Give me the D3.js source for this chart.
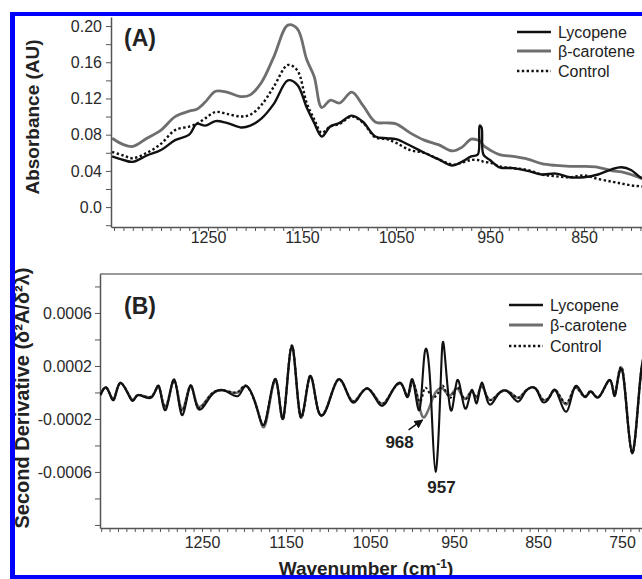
<!DOCTYPE html>
<html><head><meta charset="utf-8">
<script src="https://cdn.jsdelivr.net/npm/d3@7"></script>
<style>body{margin:0;background:#fff}svg{display:block;font-family:"Liberation Sans",Arial,sans-serif}</style>
</head><body><svg id="c" width="642" height="579"></svg>
<script>
// ---------- Panel A: absorbance ----------
const wavenumbersA = [1352,1340,1330,1315,1300,1285,1270,1262,1253,1242,1230,1215,1205,1193,1180,1165,1155,1145,1137,1129,1120,1110,1097,1085,1072,1060,1050,1035,1020,1005,990,980,970,963,961,959,957,950,940,925,910,895,880,865,850,835,820,810,800,790,780,760];
const lycopeneA = [0.056,0.052,0.050,0.057,0.063,0.074,0.080,0.092,0.090,0.095,0.093,0.088,0.090,0.098,0.114,0.140,0.135,0.110,0.093,0.078,0.089,0.093,0.101,0.094,0.078,0.076,0.075,0.068,0.060,0.053,0.046,0.050,0.056,0.058,0.090,0.088,0.058,0.052,0.044,0.043,0.040,0.036,0.037,0.033,0.033,0.036,0.042,0.044,0.041,0.033,0.030,0.028];
const betaCaroteneA = [0.076,0.069,0.067,0.076,0.085,0.100,0.106,0.108,0.116,0.128,0.127,0.122,0.124,0.138,0.166,0.201,0.197,0.163,0.144,0.110,0.118,0.115,0.127,0.112,0.094,0.093,0.092,0.082,0.074,0.069,0.062,0.066,0.075,0.074,0.073,0.071,0.068,0.063,0.058,0.056,0.053,0.048,0.046,0.045,0.045,0.044,0.040,0.039,0.036,0.032,0.029,0.026];
const controlA = [0.061,0.057,0.054,0.060,0.070,0.085,0.089,0.092,0.098,0.105,0.103,0.100,0.102,0.113,0.133,0.157,0.151,0.115,0.097,0.082,0.089,0.092,0.100,0.093,0.077,0.075,0.071,0.063,0.060,0.053,0.047,0.049,0.052,0.052,0.051,0.051,0.050,0.049,0.045,0.043,0.041,0.036,0.034,0.033,0.035,0.031,0.028,0.026,0.024,0.023,0.022,0.020];
const yTicksA = [-0.02,0,0.02,0.04,0.06,0.08,0.10,0.12,0.14,0.16,0.18,0.20];
const yLabelsA = {"0":"0.0","0.04":"0.04","0.08":"0.08","0.12":"0.12","0.16":"0.16","0.2":"0.20"};
const xLabelsA = [1250,1150,1050,950,850];

// ---------- Panel B: second derivative ----------
const wavenumbersB = [1371,1363,1355,1347,1334,1326,1310,1301,1293,1283,1274,1264,1255,1240,1223,1207,1197,1184,1174,1162,1153,1143,1133,1122,1112,1100,1088,1077,1067,1053,1038,1026,1013,1005,999,991,985,978,972,966,962,954,946,937,929,923,917,909,898,886,874,865,853,845,836,828,816,806,795,787,777,764,758,749,738,727,715];
const lycopeneB = [-0.19e-4,0.31e-4,-0.57e-4,0.74e-4,-0.57e-4,-0.19e-4,-0.37e-4,0.44e-4,-1.32e-4,0.99e-4,-1.70e-4,0.49e-4,-1.20e-4,-0.32e-4,0.14e-4,-0.27e-4,0.49e-4,-1.32e-4,-2.08e-4,0.99e-4,-1.90e-4,3.51e-4,-1.70e-4,1.19e-4,-1.30e-4,-0.95e-4,0.99e-4,-0.07e-4,-0.69e-4,0.31e-4,-0.95e-4,-0.19e-4,0.69e-4,-0.32e-4,0.94e-4,-1.32e-4,2.95e-4,0.44e-4,-5.98e-4,0.44e-4,3.51e-4,-1.32e-4,0.94e-4,-1.20e-4,0.19e-4,-0.82e-4,0.74e-4,-0.82e-4,-0.19e-4,0.06e-4,-0.69e-4,0.06e-4,0.31e-4,-0.69e-4,-0.32e-4,0.06e-4,-1.45e-4,0.44e-4,-0.32e-4,0.06e-4,-0.32e-4,0.94e-4,-0.19e-4,1.44e-4,-4.59e-4,1.70e-4,2.50e-4];
const betaCaroteneB = [-0.19e-4,0.31e-4,-0.50e-4,0.70e-4,-0.50e-4,-0.19e-4,-0.30e-4,0.40e-4,-1.10e-4,0.90e-4,-1.30e-4,0.50e-4,-1.00e-4,-0.20e-4,0.14e-4,0.00e-4,0.49e-4,-1.30e-4,-2.30e-4,0.90e-4,-1.90e-4,3.50e-4,-1.80e-4,1.15e-4,-1.30e-4,-0.90e-4,0.95e-4,-0.05e-4,-0.60e-4,0.30e-4,-0.80e-4,-0.15e-4,0.65e-4,-0.30e-4,0.80e-4,-1.10e-4,-1.85e-4,-0.90e-4,0.00e-4,0.35e-4,0.20e-4,-0.20e-4,0.30e-4,-0.50e-4,0.10e-4,-0.40e-4,0.50e-4,-0.50e-4,-0.15e-4,0.10e-4,-0.40e-4,0.10e-4,0.30e-4,-0.50e-4,-0.30e-4,0.10e-4,-0.90e-4,0.35e-4,-0.30e-4,0.10e-4,-0.30e-4,0.90e-4,-0.10e-4,1.55e-4,-4.50e-4,1.70e-4,2.50e-4];
const controlB = [-0.19e-4,0.31e-4,-0.50e-4,0.70e-4,-0.50e-4,-0.19e-4,-0.30e-4,0.40e-4,-1.10e-4,0.90e-4,-1.40e-4,0.50e-4,-1.10e-4,-0.20e-4,0.14e-4,0.05e-4,0.49e-4,-1.30e-4,-2.10e-4,0.95e-4,-1.90e-4,3.55e-4,-1.80e-4,1.15e-4,-1.30e-4,-0.90e-4,0.95e-4,-0.05e-4,-0.60e-4,0.30e-4,-0.80e-4,-0.15e-4,0.65e-4,-0.30e-4,0.80e-4,-0.70e-4,0.30e-4,-0.20e-4,-0.30e-4,0.30e-4,0.40e-4,-0.40e-4,0.40e-4,-0.50e-4,0.10e-4,-0.40e-4,0.50e-4,-0.50e-4,-0.15e-4,0.10e-4,-0.40e-4,0.10e-4,0.30e-4,-0.50e-4,-0.30e-4,0.10e-4,-0.80e-4,0.35e-4,-0.30e-4,0.10e-4,-0.30e-4,0.90e-4,-0.10e-4,1.60e-4,-4.55e-4,1.70e-4,2.50e-4];
const yTicksB = [-0.001,-0.0008,-0.0006,-0.0004,-0.0002,0,0.0002,0.0004,0.0006,0.0008];
const yLabelsB = [-0.0006,-0.0002,0.0002,0.0006];
const xLabelsB = [1250,1150,1050,950,850,750];

const seriesNames = ["Lycopene","β-carotene","Control"];
const annotations = [{label:"968", w:985, v:-1.85e-4}, {label:"957", w:972, v:-5.98e-4}];

const styles = {
  "Lycopene":   {stroke:"#111", width:2.4, dash:null},
  "β-carotene": {stroke:"#6e6e6e", width:2.8, dash:null},
  "Control":    {stroke:"#111", width:2.4, dash:"2.4,2.4"}
};

const svg = d3.select("#c");
const axisColor = "#555";
const labelColor = "#2a2a2a";

function styleAxis(g){
  g.select(".domain").attr("stroke", axisColor).attr("stroke-width", 1.5);
  g.selectAll(".tick line").attr("stroke", axisColor).attr("stroke-width", 1);
  g.selectAll(".tick text").attr("fill", labelColor).style("font-size","16px").style("font-family",'"Liberation Sans",Arial,sans-serif');
}

// ---------- Panel A ----------
const xA = d3.scaleLinear().domain([1353.2, 750]).range([111, 678]);
const yA = d3.scaleLinear().domain([-0.022, 0.21]).range([227, 17]);

svg.append("clipPath").attr("id","clipA").append("rect").attr("x",111).attr("y",14).attr("width",560).attr("height",213);
svg.append("clipPath").attr("id","clipB").append("rect").attr("x",100).attr("y",274).attr("width",560).attr("height",254);

const gxA = svg.append("g").attr("transform","translate(0,227)")
  .call(d3.axisBottom(xA).tickValues(d3.range(760,1351,10)).tickSize(4).tickSizeOuter(0).tickPadding(1)
    .tickFormat(d => xLabelsA.includes(d) ? d : ""));
styleAxis(gxA);
const gyA = svg.append("g").attr("transform","translate(111,0)")
  .call(d3.axisLeft(yA).tickValues(yTicksA).tickSize(5).tickSizeOuter(0).tickPadding(4)
    .tickFormat(d => yLabelsA[String(+d.toFixed(2))] || ""));
styleAxis(gyA);

const lineA = d3.line().x(d => xA(d[0])).y(d => yA(d[1])).curve(d3.curveCatmullRom.alpha(0.5));
const dataA = {"Lycopene":lycopeneA, "β-carotene":betaCaroteneA, "Control":controlA};
["β-carotene","Lycopene","Control"].forEach(n => {
  const s = styles[n];
  svg.append("path").attr("clip-path","url(#clipA)")
    .datum(wavenumbersA.map((w,i) => [w, dataA[n][i]]))
    .attr("d", lineA).attr("fill","none").attr("stroke", s.stroke)
    .attr("stroke-width", s.width).attr("stroke-dasharray", s.dash).attr("stroke-linejoin","round");
});

svg.append("text").attr("x",124).attr("y",46).attr("font-weight","bold").attr("font-size",23).attr("fill","#222").text("(A)");
svg.append("text").attr("transform","translate(39,117) rotate(-90)").attr("text-anchor","middle")
  .attr("font-weight","bold").attr("font-size",19).attr("fill","#222").text("Absorbance (AU)");

function legend(x0, ys){
  seriesNames.forEach((n,i) => {
    const s = styles[n];
    svg.append("line").attr("x1",x0).attr("x2",x0+34).attr("y1",ys[i]).attr("y2",ys[i])
      .attr("stroke",s.stroke).attr("stroke-width",s.width+0.3).attr("stroke-dasharray",s.dash);
    svg.append("text").attr("x",x0+41).attr("y",ys[i]+6).attr("font-size",16).attr("fill","#222").text(n);
  });
}
legend(517, [32,51,71]);

// ---------- Panel B ----------
const xB = d3.scaleLinear().domain([1371.4, 700]).range([100, 664]);
const yB = d3.scaleLinear().domain([-0.001023, 0.000894]).range([528, 274]);

svg.append("line").attr("x1",100).attr("x2",642).attr("y1",274).attr("y2",274).attr("stroke","#777").attr("stroke-width",1.5);
const gxB = svg.append("g").attr("transform","translate(0,528)")
  .call(d3.axisBottom(xB).tickValues(d3.range(710,1371,10)).tickSize(4).tickSizeOuter(0).tickPadding(5)
    .tickFormat(d => xLabelsB.includes(d) ? d : ""));
styleAxis(gxB);
const gyB = svg.append("g").attr("transform","translate(100,0)")
  .call(d3.axisLeft(yB).tickValues(yTicksB).tickSize(5).tickSizeOuter(0).tickPadding(3)
    .tickFormat(d => yLabelsB.some(v => Math.abs(v-d) < 1e-9) ? d.toFixed(4) : ""));
styleAxis(gyB);

const lineB = d3.line().x(d => xB(d[0])).y(d => yB(d[1])).curve(d3.curveNatural);
const dataB = {"Lycopene":lycopeneB, "β-carotene":betaCaroteneB, "Control":controlB};
["β-carotene","Lycopene","Control"].forEach(n => {
  const s = styles[n];
  svg.append("path").attr("clip-path","url(#clipB)")
    .datum(wavenumbersB.map((w,i) => [w, dataB[n][i]]))
    .attr("d", lineB).attr("fill","none").attr("stroke", s.stroke)
    .attr("stroke-width", s.width - 0.3).attr("stroke-dasharray", s.dash).attr("stroke-linejoin","round");
});

svg.append("text").attr("x",124).attr("y",314).attr("font-weight","bold").attr("font-size",23).attr("fill","#222").text("(B)");
svg.append("text").attr("transform","translate(29,398) rotate(-90)").attr("text-anchor","middle")
  .attr("font-weight","bold").attr("font-size",20).attr("fill","#222").text("Second Derivative (δ²A/δ²λ)");
legend(509, [305,325,346]);

// annotations
svg.append("defs").append("marker").attr("id","arr").attr("viewBox","0 0 10 10").attr("refX",9).attr("refY",5)
  .attr("markerWidth",6).attr("markerHeight",6).attr("orient","auto")
  .append("path").attr("d","M0,0L10,5L0,10z").attr("fill","#111");
const a968 = annotations[0], a957 = annotations[1];
svg.append("line").attr("x1",xB(a968.w)-16).attr("y1",yB(a968.v)+13).attr("x2",xB(a968.w)-2).attr("y2",yB(a968.v)+3)
  .attr("stroke","#111").attr("stroke-width",1.5).attr("marker-end","url(#arr)");
svg.append("text").attr("x",xB(a968.w)-25).attr("y",yB(a968.v)+31).attr("text-anchor","middle")
  .attr("font-weight","bold").attr("font-size",17).attr("fill","#222").text(a968.label);
svg.append("text").attr("x",xB(a957.w)+6).attr("y",yB(a957.v)+21).attr("text-anchor","middle")
  .attr("font-weight","bold").attr("font-size",17).attr("fill","#222").text(a957.label);

svg.append("text").attr("x",366).attr("y",574.5).attr("text-anchor","middle")
  .attr("font-weight","bold").attr("font-size",19).attr("fill","#222")
  .html('Wavenumber (cm<tspan dy="-7" font-size="12">-1</tspan><tspan dy="7">)</tspan>');

// blue frame
svg.append("rect").attr("x",10).attr("y",12).attr("width",632).attr("height",4).attr("fill","#0000ff");
svg.append("rect").attr("x",10).attr("y",12).attr("width",5).attr("height",567).attr("fill","#0000ff");
svg.append("rect").attr("x",10).attr("y",575).attr("width",632).attr("height",4).attr("fill","#0000ff");
</script></body></html>
